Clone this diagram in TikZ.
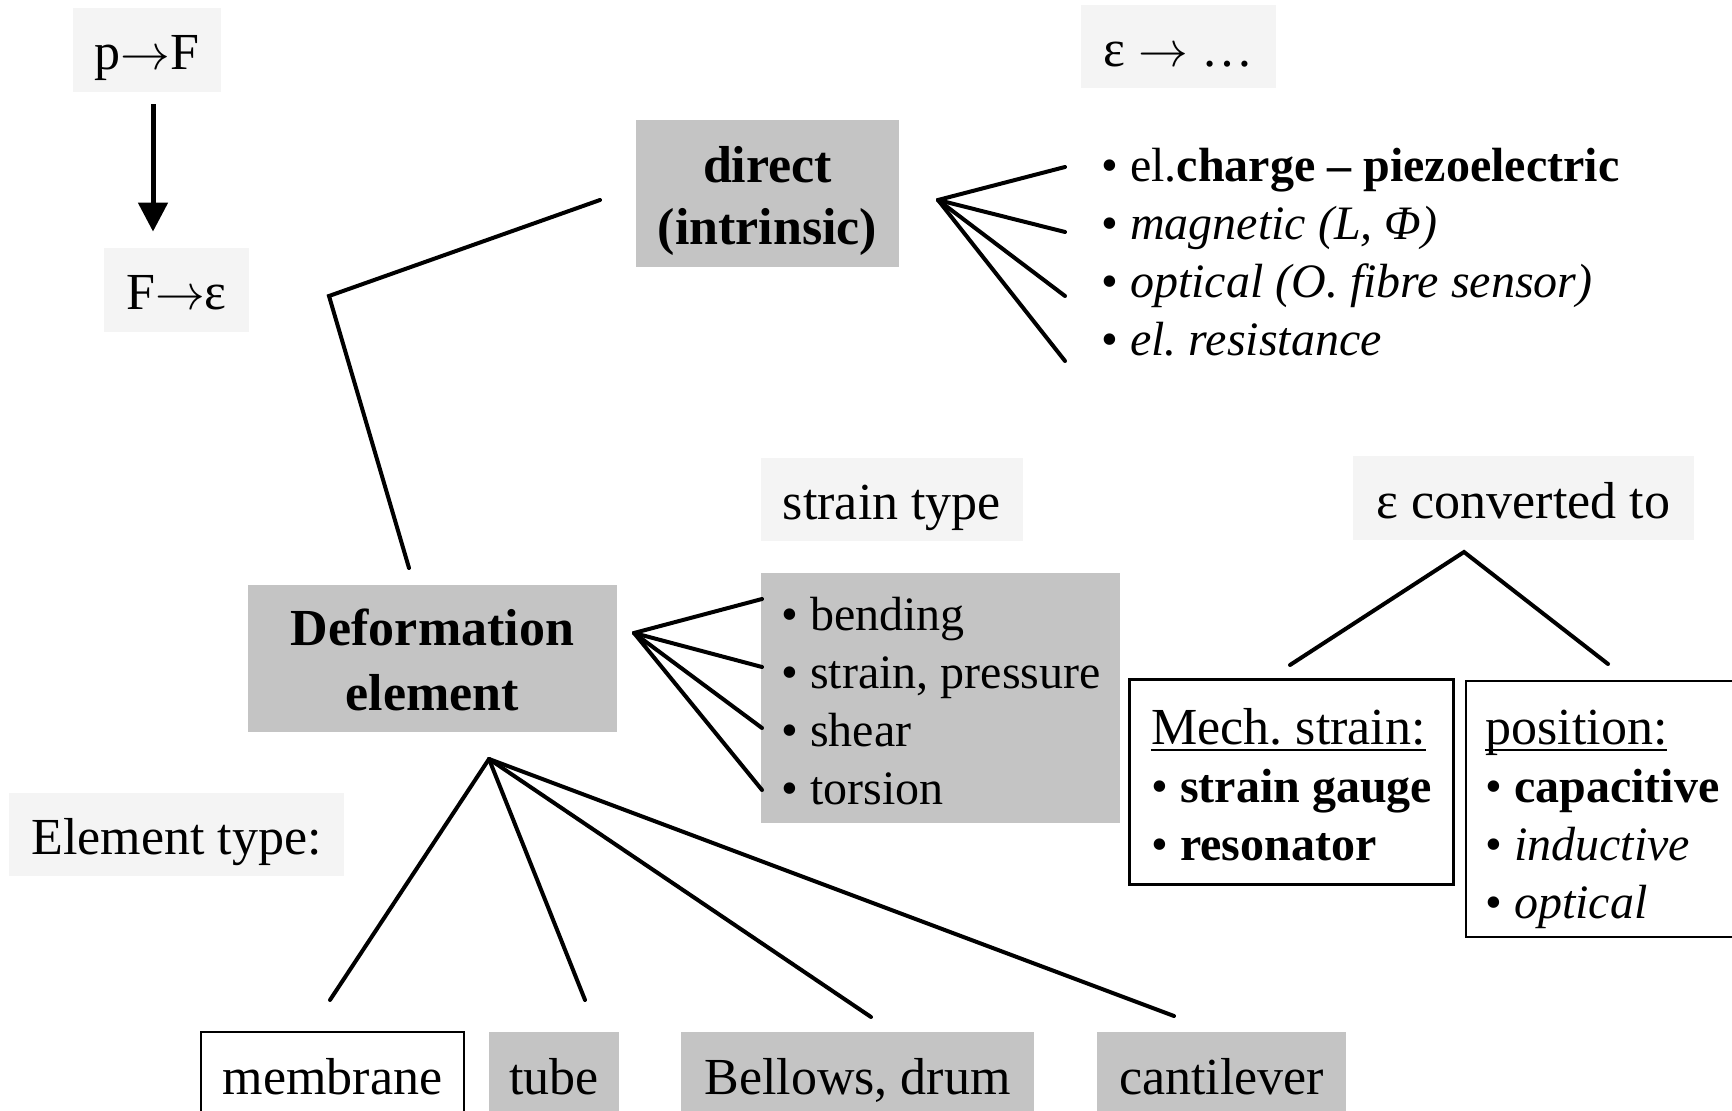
\documentclass[tikz,border=0pt]{standalone}
\usepackage{fontspec}
\setmainfont{Liberation Serif}
\usetikzlibrary{arrows.meta}
\frenchspacing
\definecolor{boxgray}{HTML}{C4C4C4}
\definecolor{lblgray}{HTML}{F4F4F4}
\newcommand{\lstL}[1]{\begin{tabular}[t]{@{}l@{}}#1\end{tabular}}
\newcommand{\lstC}[1]{\begin{tabular}[t]{@{}c@{}}#1\end{tabular}}
\newcommand{\myul}[1]{\setbox0\hbox{#1}\rlap{\rule[-3.6pt]{\wd0}{1.2pt}}\box0}
\newcommand{\ar}{$\rightarrow$}
\begin{document}
\begin{tikzpicture}[x=0.5pt,y=-0.5pt,
  big/.style={font=\fontsize{26}{31}\selectfont},
  lbl/.style={big, fill=lblgray, inner sep=0pt, text height=20pt, text depth=0pt},
  gbox/.style={fill=boxgray, inner sep=0pt},
  gtbox/.style={big, fill=boxgray, inner sep=0pt, text height=20pt, text depth=0pt},
  wbox/.style={fill=white, draw=black, inner sep=0pt},
  txt/.style={inner sep=0pt, font=\fontsize{24}{29}\selectfont},
  conn/.style={line width=2pt, line cap=round, line join=miter},
  arr/.style={line width=2.5pt, -{Triangle[width=14.5pt,length=14.5pt]}}]
\useasboundingbox (0,0) rectangle (1732,1111);
\clip (0,0) rectangle (1732,1111);

% top-left labels
\node[lbl, minimum width=74pt, minimum height=42pt] (pf) at (147,50) {p\ar F};
\node[lbl, minimum width=72.5pt, minimum height=42pt] (fe) at (176.5,290) {F\ar ε};
\draw[arr, shorten <=6pt, shorten >=8pt] ([xshift=3pt]pf.south) -- ([xshift=3pt]pf.south |- fe.north);

% direct branch
\node[lbl, minimum width=97.5pt, minimum height=41.5pt] (eps) at (1178.5,46.5) {ε \ar{} …};
\node[gbox, minimum width=131.5pt, minimum height=73.5pt] (direct) at (767.5,193.5) {};
\node[inner sep=0pt, anchor=base, font=\bfseries\fontsize{26}{31}\selectfont] (directt) at (767.5,183)
  {\lstC{direct\\(intrinsic)}};
\node[txt, anchor=base west] (dlist) at (1101,182)
  {\lstL{• el.\textbf{charge – piezoelectric}\\
   • \textit{magnetic (L, Φ)}\\
   • \textit{optical (O. fibre sensor)}\\
   • \textit{el. resistance}}};

% strain type branch
\node[lbl, minimum width=131pt, minimum height=41.5pt] (stype) at (892,499.5) {strain type};
\node[gbox, minimum width=179.5pt, minimum height=125pt] (slist) at (940.5,698) {};
\node[txt, anchor=base west] (slistt) at (781,630)
  {\lstL{• bending\\ • strain, pressure\\ • shear\\ • torsion}};

% epsilon converted to
\node[lbl, minimum width=170.5pt, minimum height=42pt] (econv) at (1523.5,498) {ε converted to};
\node[wbox, line width=1.5pt, minimum width=162pt, minimum height=102.5pt] (mech) at (1291,781.5) {};
\node[txt, anchor=base west] (mecht) at (1151,744)
  {\lstL{{\fontsize{26}{29}\selectfont\myul{Mech. strain:}}\\
   • \textbf{strain gauge}\\
   • \textbf{resonator}}};
\node[wbox, line width=0.75pt, minimum width=139.5pt, minimum height=128pt] (pos) at (1605.5,809) {};
\node[txt, anchor=base west] (post) at (1485,744)
  {\lstL{{\fontsize{26}{29}\selectfont\myul{position:}}\\
   • \textbf{capacitive}\\
   • \textit{inductive}\\
   • \textit{optical}}};

% deformation element
\node[gbox, minimum width=184.5pt, minimum height=73.5pt] (deform) at (432.5,658.5) {};
\node[inner sep=0pt, anchor=base, font=\bfseries\fontsize{26}{32.5}\selectfont] (deformt) at (432.5,645)
  {\lstC{Deformation\\element}};
\node[lbl, minimum width=167.5pt, minimum height=41.5pt] (etype) at (176.5,834.5) {Element type:};

% element types
\node[wbox, big, line width=0.6pt, minimum width=131.5pt, minimum height=42pt, text height=20pt, text depth=0pt] (memb) at (332.5,1074) {membrane};
\node[gtbox, minimum width=65pt, minimum height=42pt] (tube) at (554,1074) {tube};
\node[gtbox, minimum width=176.5pt, minimum height=42pt] (bell) at (857.5,1074) {Bellows, drum};
\node[gtbox, minimum width=124.5pt, minimum height=42pt] (cant) at (1221.5,1074) {cantilever};

% connector coordinates
\coordinate (dirL) at (600,200);
\coordinate (bend) at (329,296);
\coordinate (defT) at (409,568);
\coordinate (dfan) at (938,200);
\coordinate (d1) at (1065,167);
\coordinate (d2) at (1065,232);
\coordinate (d3) at (1065,296);
\coordinate (d4) at (1065,361);
\coordinate (sfan) at (634,633);
\coordinate (s1) at (762,599);
\coordinate (s2) at (762,667);
\coordinate (s3) at (762,728);
\coordinate (s4) at (762,790);
\coordinate (efan) at (489,759);
\coordinate (e1) at (330,1000);
\coordinate (e2) at (585,1000);
\coordinate (e3) at (871,1017);
\coordinate (e4) at (1174,1016);
\coordinate (capex) at (1464,552);
\coordinate (cl) at (1290,665);
\coordinate (cr) at (1608,664);

% connectors
\draw[conn] (dirL) -- (bend) -- (defT);
\foreach \t in {d1,d2,d3,d4} \draw[conn] (dfan) -- (\t);
\foreach \t in {s1,s2,s3,s4} \draw[conn] (sfan) -- (\t);
\foreach \t in {e1,e2,e3,e4} \draw[conn] (efan) -- (\t);
\draw[conn] (cl) -- (capex) -- (cr);
\end{tikzpicture}
\end{document}
